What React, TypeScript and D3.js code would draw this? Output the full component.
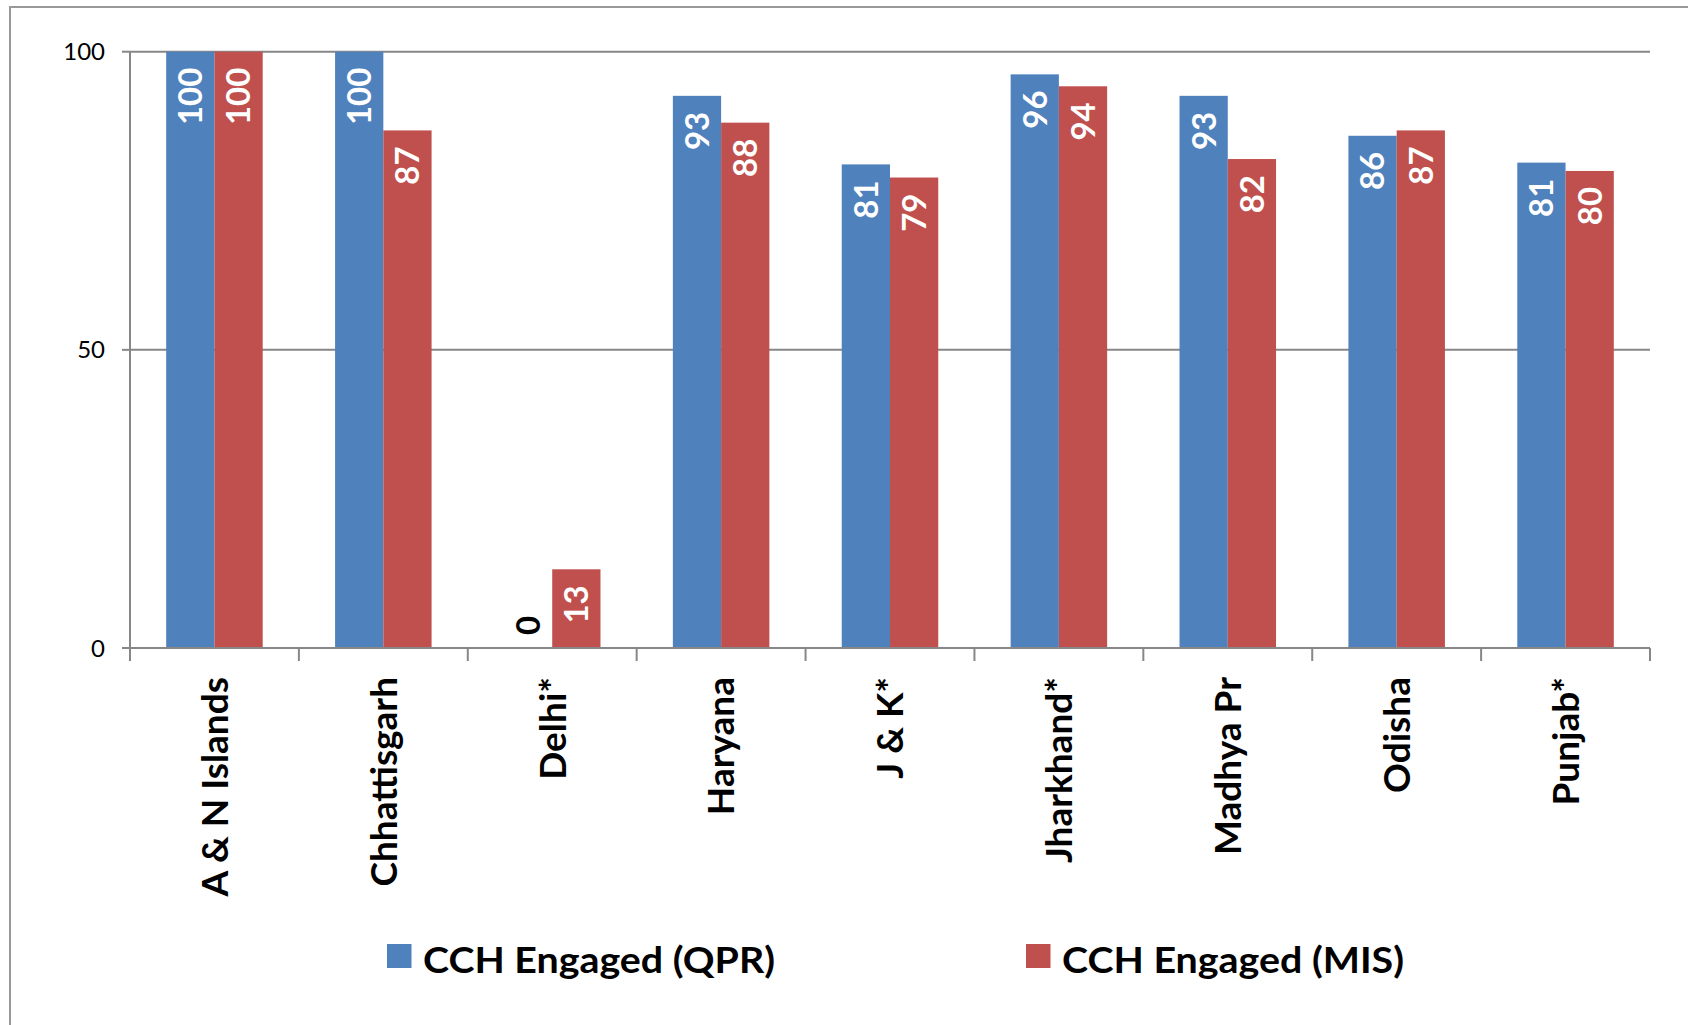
import React from "react";
import * as d3 from "d3";

const categories = ["A & N Islands", "Chhattisgarh", "Delhi*", "Haryana", "J & K*", "Jharkhand*", "Madhya Pr", "Odisha", "Punjab*"];
const qprValues = [100, 100, 0, 92.6, 81.1, 96.2, 92.6, 85.9, 81.4];
const misValues = [100, 86.8, 13.2, 88.1, 78.9, 94.2, 82.0, 86.8, 80.0];
const seriesNames = ["CCH Engaged (QPR)", "CCH Engaged (MIS)"];
const seriesColors = ["#4F81BD", "#C0504D"];
const yTicks = [0, 50, 100];

const W = 1688;
const H = 1025;
const plot = { left: 130, right: 1650, top: 51.7, bottom: 648 };
const FONT = "Lato, Carlito, Calibri, 'Open Sans', sans-serif";

export default function App() {
  const x = d3.scaleBand<string>().domain(categories).range([plot.left, plot.right]).paddingInner(0).paddingOuter(0);
  const step = x.bandwidth();
  const barW = step / 3.5;
  const inner = d3.scaleBand<number>().domain([0, 1]).range([0, barW * 2]);
  const y = d3.scaleLinear().domain([0, 100]).range([plot.bottom, plot.top]);
  const series = [qprValues, misValues];
  const gridColor = "#878787";

  return (
    <svg width={W} height={H} style={{ position: "absolute", left: 0, top: 0, background: "#fff" }} fontFamily={FONT}>
      <rect x={10} y={7} width={W + 20} height={H + 20} fill="#fff" stroke="#999" strokeWidth={2} />
      {yTicks.map((t) => (
        <g key={t}>
          <line x1={plot.left - 8} x2={plot.left} y1={y(t)} y2={y(t)} stroke={gridColor} strokeWidth={2} />
          {t !== 0 && <line x1={plot.left} x2={plot.right} y1={y(t)} y2={y(t)} stroke={gridColor} strokeWidth={2} />}
          <text x={105} y={y(t)} dy="0.36em" textAnchor="end" fontSize={24} fill="#000">{t}</text>
        </g>
      ))}
      {categories.map((c, i) => {
        const x0 = (x(c) as number) + (step - barW * 2) / 2;
        return (
          <g key={c}>
            {series.map((vals, s) => {
              const v = vals[i];
              const bx = x0 + (inner(s) as number);
              const cx = bx + barW / 2;
              const label = String(Math.round(v));
              if (v === 0) {
                return (
                  <text key={s} transform={`translate(${cx},${y(0) - 13}) rotate(-90)`} dy="0.36em" textAnchor="start" fontSize={33} fontWeight="bold" fill="#000">{label}</text>
                );
              }
              return (
                <g key={s}>
                  <rect x={bx} y={y(v)} width={barW} height={y(0) - y(v)} fill={seriesColors[s]} />
                  <text transform={`translate(${cx},${y(v) + 16}) rotate(-90)`} dy="0.36em" textAnchor="end" fontSize={33} fontWeight="bold" fill="#fff">{label}</text>
                </g>
              );
            })}
          </g>
        );
      })}
      <line x1={plot.left} x2={plot.right} y1={y(0)} y2={y(0)} stroke={gridColor} strokeWidth={2} />
      <line x1={plot.left} x2={plot.left} y1={plot.top} y2={y(0)} stroke={gridColor} strokeWidth={2} />
      {d3.range(categories.length + 1).map((k) => (
        <line key={k} x1={plot.left + k * step} x2={plot.left + k * step} y1={y(0)} y2={y(0) + 13} stroke={gridColor} strokeWidth={2} />
      ))}
      {categories.map((c) => (
        <text key={c} transform={`translate(${(x(c) as number) + step / 2},${677}) rotate(-90)`} dy="0.36em" textAnchor="end" fontSize={37} fontWeight="bold" fill="#000">{c}</text>
      ))}
      {seriesNames.map((n, s) => {
        const lx = s === 0 ? 387 : 1026;
        const tw = s === 0 ? 352 : 342;
        return (
          <g key={n}>
            <rect x={lx} y={944} width={24.5} height={24} fill={seriesColors[s]} />
            <text x={lx + 36} y={973} fontSize={37} fontWeight="bold" fill="#000" textLength={tw} lengthAdjust="spacingAndGlyphs">{n}</text>
          </g>
        );
      })}
    </svg>
  );
}
